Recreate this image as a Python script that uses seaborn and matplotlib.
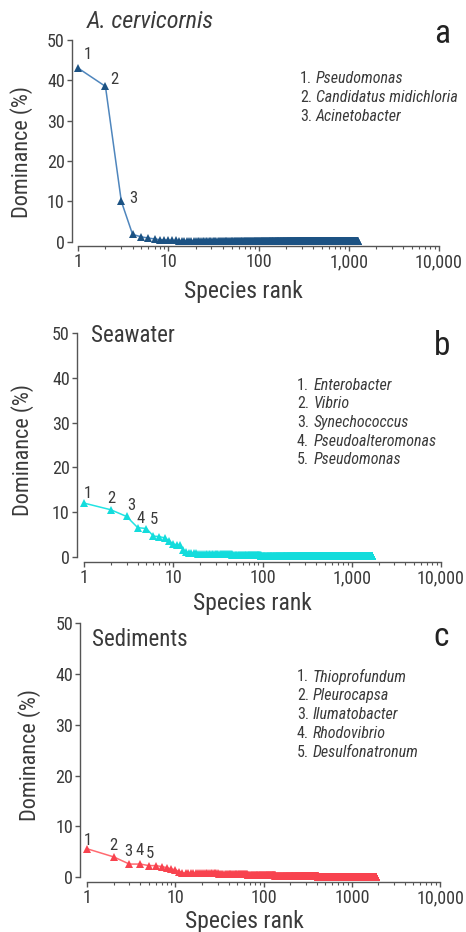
import numpy as np
import matplotlib
matplotlib.use("Agg")
import matplotlib.pyplot as plt
import matplotlib.ticker as mticker
import seaborn as sns

# ---------------- data ----------------
# Panel a: A. cervicornis
a_head = [43.0, 38.5, 10.0, 1.8, 1.2, 0.9, 0.7, 0.5, 0.45, 0.4, 0.35, 0.3]
a_tail_levels = [0.25, 0.2, 0.15, 0.1, 0.05]
a_tail_counts = [20, 40, 120, 400, 658]
a_names = ["Pseudomonas", "Candidatus midichloria", "Acinetobacter"]

# Panel b: Seawater
b_head = [12.0, 10.5, 9.0, 6.5, 6.3, 4.6, 4.5, 4.2, 3.6, 2.8, 2.7, 2.6, 1.5, 1.1,
          0.9, 0.85, 0.8, 0.75, 0.7, 0.7]
b_tail_levels = [0.6, 0.5, 0.4, 0.3, 0.2, 0.1, 0.05]
b_tail_counts = [10, 15, 20, 30, 100, 500, 995]
b_names = ["Enterobacter", "Vibrio", "Synechococcus", "Pseudoalteromonas", "Pseudomonas"]

# Panel c: Sediments
c_head = [5.6, 4.0, 2.6, 2.6, 2.3, 2.3, 2.1, 1.9, 1.6, 1.5, 1.1, 0.9]
c_tail_levels = [0.85, 0.8, 0.7, 0.6, 0.5, 0.4, 0.3, 0.2, 0.15, 0.1]
c_tail_counts = [8, 10, 15, 20, 30, 40, 80, 200, 500, 967]
c_names = ["Thioprofundum", "Pleurocapsa", "Ilumatobacter", "Rhodovibrio", "Desulfonatronum"]

xtick_vals = [1, 10, 100, 1000, 10000]
xtick_labels_ab = ["1", "10", "100", "1,000", "10,000"]
xtick_labels_c = ["1", "10", "100", "1000", "10,000"]
ytick_vals = [0, 10, 20, 30, 40, 50]

# ---------------- style ----------------
sns.set_theme(style="ticks")
plt.rcParams["font.family"] = ["Roboto Condensed", "Archivo Narrow", "DejaVu Sans"]
TXT = "#3a3a3a"
AX = "#555555"

W, H = 466, 932
fig = plt.figure(figsize=(W / 100, H / 100), dpi=100)


def fx(x):
    return x / W


def fy(y):
    return 1 - y / H


def build(head, levels, counts):
    vals = np.concatenate([np.array(head, float), np.repeat(levels, counts)])
    ranks = np.arange(1, len(vals) + 1)
    return ranks, vals


panels = [
    dict(head=a_head, lv=a_tail_levels, ct=a_tail_counts, names=a_names,
         box=(78.3, 439, 40, 241.7), loff=6.6, boff=4.3,
         line="#4f86bd", mark="#1c5283", title="A. cervicornis", tstyle="italic",
         tsize=17.5, tpos=(87, 22), letter="a", lpos=(442, 43),
         leg=(300, 316, 78.3, 19.2), xl=xtick_labels_ab, sr=(243.5, 298), dom=(21.5, 152.5),
         offs=[(7.2, 9.6), (6.5, 4.7), (8.6, 2.4)]),
    dict(head=b_head, lv=b_tail_levels, ct=b_tail_counts, names=b_names,
         box=(84, 441, 333.3, 556.7), loff=7.3, boff=5.6,
         line="#22e3e3", mark="#13dcdc", title="Seawater", tstyle="normal",
         tsize=16.5, tpos=(91, 336), letter="b", lpos=(442, 355),
         leg=(297, 314, 385, 18.7), xl=xtick_labels_ab, sr=(252.5, 610), dom=(22.5, 450),
         offs=[(2.7, 7.0), (0.0, 8.3), (3.2, 7.6), (2.2, 6.8), (5.7, 6.6)]),
    dict(head=c_head, lv=c_tail_levels, ct=c_tail_counts, names=c_names,
         box=(87.3, 440, 623, 877.3), loff=7.3, boff=5,
         line="#ff6a70", mark="#f8434f", title="Sediments", tstyle="normal",
         tsize=16.5, tpos=(92, 639), letter="c", lpos=(441, 646),
         leg=(297, 313, 676.7, 19), xl=xtick_labels_c, sr=(244.5, 928), dom=(30, 755),
         offs=[(0.7, 6.3), (-0.4, 8.6), (-0.8, 8.9), (-0.2, 10.0), (0.8, 8.9)]),
]

for p in panels:
    l, r, t, b = p["box"]
    ax = fig.add_axes([fx(l), fy(b), (r - l) / W, (b - t) / H])
    ranks, vals = build(p["head"], p["lv"], p["ct"])
    sns.lineplot(x=ranks, y=vals, ax=ax, color=p["line"], linewidth=1.1,
                 marker="^", markersize=5.2, markeredgewidth=0,
                 markerfacecolor=p["mark"], clip_on=False, zorder=3)
    ax.set_xscale("log")
    ax.set_xlim(1, 10000)
    ax.set_ylim(0, 50)
    sns.despine(ax=ax)
    ax.spines["left"].set_position(("outward", p["loff"] * 0.72))
    ax.spines["bottom"].set_position(("outward", p["boff"] * 0.72))
    for s in ("left", "bottom"):
        ax.spines[s].set_color(AX)
        ax.spines[s].set_linewidth(1.0)
    ax.set_xticks(xtick_vals)
    ax.set_xticklabels(p["xl"])
    ax.xaxis.set_minor_locator(mticker.LogLocator(base=10, subs=np.arange(2, 10)))
    ax.xaxis.set_minor_formatter(mticker.NullFormatter())
    ax.set_yticks(ytick_vals)
    ax.set_yticklabels([str(v) for v in ytick_vals])
    ax.tick_params(axis="both", which="major", direction="out", length=3.5, width=1,
                   color=AX, labelcolor=TXT, labelsize=13, pad=1.5)
    ax.tick_params(axis="x", which="minor", direction="out", length=2.2, width=0.8, color=AX)
    ax.set_xlabel("")
    ax.set_ylabel("")
    ax.set_facecolor("none")
    ax.grid(False)

    # rank annotations
    for i, (dx, dy) in enumerate(p["offs"]):
        ax.annotate(str(i + 1), (ranks[i], vals[i]), xytext=(dx, dy),
                    textcoords="offset points", fontsize=12, color=TXT,
                    ha="center", va="center")

    # legend text
    x_num, x_name, y0, dy = p["leg"]
    for i, nm in enumerate(p["names"]):
        y = y0 + i * dy
        fig.text(fx(x_num), fy(y), f"{i + 1}.", fontsize=11.5, color=TXT,
                 ha="left", va="center")
        fig.text(fx(x_name), fy(y), nm, fontsize=11.5, color=TXT, style="italic",
                 ha="left", va="center")

    # title, panel letter, axis labels
    fig.text(fx(p["tpos"][0]), fy(p["tpos"][1]), p["title"], fontsize=p["tsize"],
             style=p["tstyle"], color=TXT, ha="left", va="center")
    fig.text(fx(p["lpos"][0]), fy(p["lpos"][1]), p["letter"], fontsize=24,
             color="#222222", ha="center", va="baseline")
    fig.text(fx(p["sr"][0]), fy(p["sr"][1]), "Species rank", fontsize=17,
             color=TXT, ha="center", va="baseline")
    fig.text(fx(p["dom"][0]), fy(p["dom"][1]), "Dominance (%)", fontsize=16,
             color=TXT, ha="center", va="center", rotation=90)

fig.savefig("out.png", dpi=100, facecolor="white")
